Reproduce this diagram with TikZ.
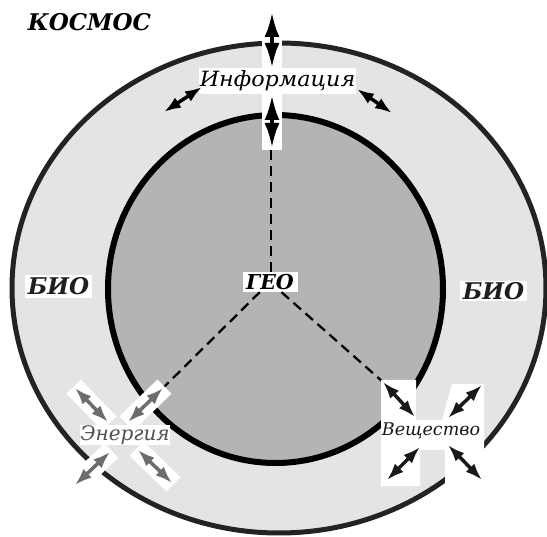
\documentclass[tikz,border=0pt]{standalone}
\usepackage{fontspec}
\usepackage{graphicx}
\setmainfont{DejaVu Serif}
\usetikzlibrary{arrows.meta}
\definecolor{ringfill}{HTML}{E4E4E4}
\definecolor{corefill}{HTML}{B4B4B4}
\definecolor{ringline}{HTML}{232323}
\definecolor{egray}{HTML}{6C6C6C}
\definecolor{etext}{HTML}{505050}
\begin{document}
\begin{tikzpicture}[x=1pt,y=-1pt,
  dbl/.style={{Latex[length=25pt,width=15pt]}-{Latex[length=25pt,width=15pt]}, line width=4pt},
  sdbl/.style={{Latex[length=17pt,width=12pt]}-{Latex[length=17pt,width=12pt]}, line width=3.5pt},
  band/.style={line width=20pt, draw=white, shorten <=-2pt, shorten >=-2pt},
  dashln/.style={line width=2.3pt, dash pattern=on 10pt off 6pt},
  lbl/.style={inner sep=0pt, fill=white}]
\useasboundingbox (0,0) rectangle (547,537);
\fill[white] (0,0) rectangle (547,537);
% rings
\draw[fill=ringfill, draw=ringline, line width=5pt] (279,288) ellipse [x radius=267, y radius=245];
\draw[fill=corefill, draw=black, line width=6pt] (275.5,289) ellipse [x radius=167.5, y radius=174];
% coordinates
\coordinate (colBot) at (271,150);
\coordinate (iTa) at (272,12);  \coordinate (iTb) at (272,68);
\coordinate (iBa) at (272,95);  \coordinate (iBb) at (272,148);
\coordinate (iLa) at (164,112); \coordinate (iLb) at (202,87);
\coordinate (iRa) at (357,89);  \coordinate (iRb) at (392,113);
\coordinate (eULa) at (75,388);  \coordinate (eULb) at (108,422);
\coordinate (eURa) at (128,422); \coordinate (eURb) at (163,388);
\coordinate (eLLa) at (110,452); \coordinate (eLLb) at (75,485);
\coordinate (eLRa) at (138,450); \coordinate (eLRb) at (172,483);
\coordinate (vULa) at (383,382); \coordinate (vULb) at (415,417);
\coordinate (vURa) at (448,418); \coordinate (vURb) at (482,385);
\coordinate (vLLa) at (420,447); \coordinate (vLLb) at (387,480);
\coordinate (vLRa) at (448,445); \coordinate (vLRb) at (482,480);
% GEO
\node[lbl, minimum width=55pt, minimum height=20pt, font=\fontsize{20.5}{20.5}\selectfont\bfseries\itshape] (geo) at (270,282) {ГЕО};
\draw[dashln] (geo.north -| colBot) -- (colBot);
\draw[dashln] (geo) -- (eURb);
\draw[dashln] (geo) -- (vULa);
% information
\fill[white] (262,2) rectangle (282,150);
\node[lbl, minimum width=157pt, minimum height=26pt, font=\fontsize{21}{21}\selectfont\itshape] (info) at (277.5,81) {\scalebox{1.06}[1]{Информация}};
\draw[dbl] (iTa) -- (iTb);
\draw[dbl] (iBa) -- (iBb);
\draw[sdbl] (iLa) -- (iLb);
\draw[sdbl] (iRa) -- (iRb);
% energy
\draw[band] (eULa) -- (eULb);
\draw[band] (eURa) -- (eURb);
\draw[band] (eLLa) -- (eLLb);
\draw[band] (eLRa) -- (eLRb);
\node[lbl, minimum width=86pt, minimum height=20pt, text=etext, font=\fontsize{20}{20}\selectfont\itshape] (energy) at (125,435) {Энергия};
\draw[sdbl, egray] (eULa) -- (eULb);
\draw[sdbl, egray] (eURa) -- (eURb);
\draw[sdbl, egray] (eLLa) -- (eLLb);
\draw[sdbl, egray] (eLRa) -- (eLRb);
% substance
\fill[white] (381,380) -- (416,380) -- (416,420) -- (442,420) -- (452,384) -- (484,384) -- (484,486) -- (445,486) -- (445,450) -- (420,450) -- (420,486) -- (381,486) -- cycle;
\node[lbl, text=black!90, font=\fontsize{17.5}{17.5}\selectfont\itshape] (subst) at (431,431) {Вещество};
\draw[sdbl, black!90] (vULa) -- (vULb);
\draw[sdbl, black!90] (vURa) -- (vURb);
\draw[sdbl, black!90] (vLLa) -- (vLLb);
\draw[sdbl, black!90] (vLRa) -- (vLRb);
% BIO
\node[lbl, minimum width=67pt, minimum height=23pt, text=black!88, font=\fontsize{23}{23}\selectfont\bfseries\itshape] (bioL) at (58.5,286.5) {БИО};
\node[lbl, minimum width=67pt, minimum height=20pt, text=black!88, font=\fontsize{23}{23}\selectfont\bfseries\itshape] (bioR) at (493.5,291) {БИО};
% KOSMOS
\node[inner sep=0pt, font=\fontsize{23}{23}\selectfont\bfseries\itshape] (kosmos) at (89.5,22.5) {КОСМОС};
\end{tikzpicture}
\end{document}
